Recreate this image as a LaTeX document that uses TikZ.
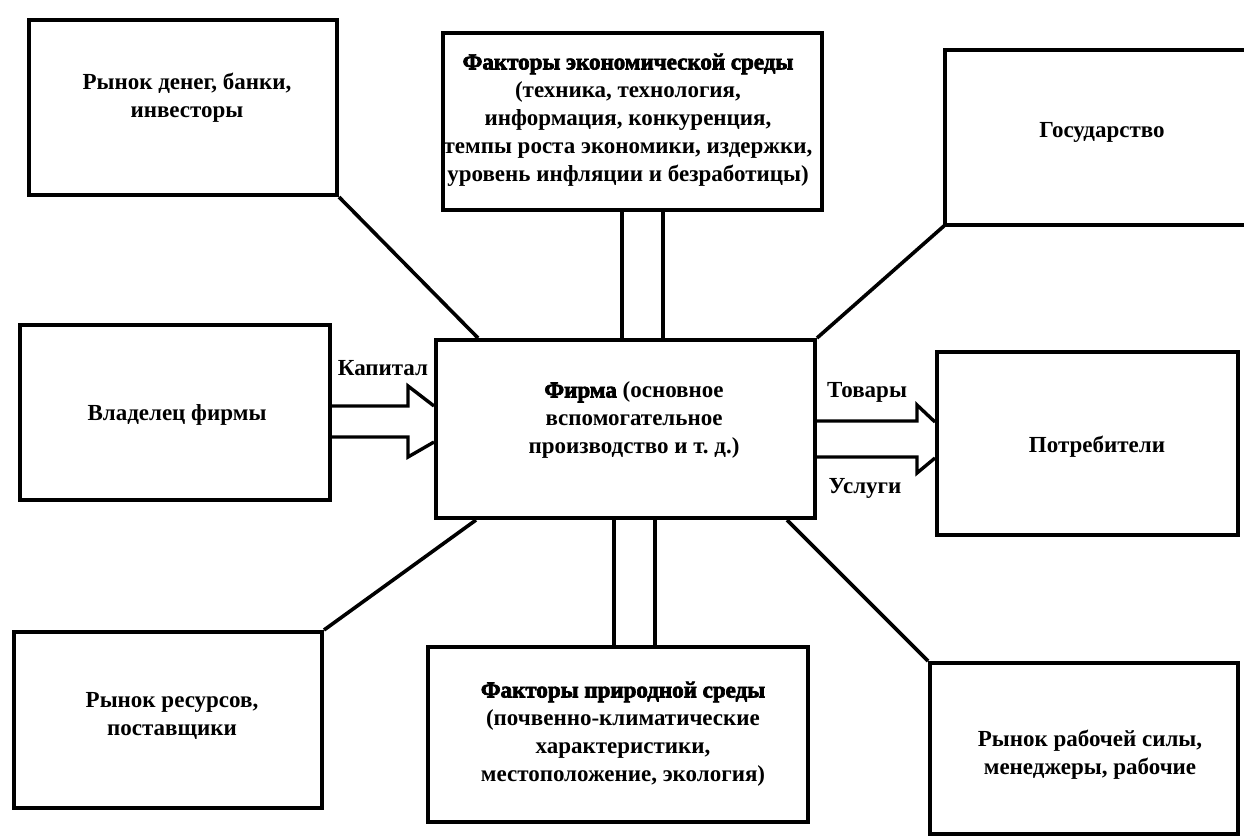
\documentclass[tikz,border=0pt]{standalone}
\usepackage{fontspec}
\setmainfont{Liberation Serif}
\newfontfamily\heavyfont{Liberation Serif}[FakeBold=3]
\usetikzlibrary{calc}
\begin{document}
\begin{tikzpicture}[x=1pt,y=-1pt,
  box/.style={draw,line width=4pt,inner sep=0pt},
  link/.style={line width=3.6pt},
  flow/.style={line width=3.4pt,line join=miter},
  txt/.style={align=center,font=\fontsize{23}{28}\selectfont\bfseries,inner sep=0pt}]
\useasboundingbox (0,0) rectangle (1244,838);
\fill[white] (0,0) rectangle (1244,838);

% boxes
\node[box,minimum width=308pt,minimum height=175pt] (A) at (183,107.5) {};
\node[box,minimum width=310pt,minimum height=175pt] (B) at (175,412.5) {};
\node[box,minimum width=379pt,minimum height=177pt] (C) at (632.5,121.5) {};
\node[box,minimum width=379pt,minimum height=178pt] (firm) at (625.5,429) {};
\node[inner sep=0pt,minimum width=299pt,minimum height=175pt] (D) at (1094.5,137.5) {};
\draw[line width=4pt] (D.north east) -- (D.north west) -- (D.south west) -- (D.south east);
\node[box,minimum width=301pt,minimum height=183pt] (E) at (1087.5,443.5) {};
\node[box,minimum width=308pt,minimum height=176pt] (F) at (168,720) {};
\node[box,minimum width=380pt,minimum height=175pt] (G) at (618,734.5) {};
\node[box,minimum width=308pt,minimum height=171pt] (H) at (1084,748.5) {};

% texts
\node[txt] (At) at (187,97.5) {Рынок денег, банки,\\инвесторы};
\node[txt] (Bt) at (177,415) {Владелец фирмы};
\node[txt] (Ct) at (628,120) {{\heavyfont\bfseries Факторы экономической среды}\\(техника, технология,\\информация, конкуренция,\\темпы роста экономики, издержки,\\уровень инфляции и безработицы)};
\node[txt] (firmt) at (634,420) {{\heavyfont\bfseries Фирма} (основное\\вспомогательное\\производство и т.\ д.)};
\node[txt] (Dt) at (1102,132) {Государство};
\node[txt] (Et) at (1097,447) {Потребители};
\node[txt] (Ft) at (172,716) {Рынок ресурсов,\\поставщики};
\node[txt] (Gt) at (623,734) {{\heavyfont\bfseries Факторы природной среды}\\(почвенно-климатические\\характеристики,\\местоположение, экология)};
\node[txt] (Ht) at (1090,755) {Рынок рабочей силы,\\менеджеры, рабочие};

% diagonal links
\draw[link] (A.south east) -- ($(firm.north west)+(44,0)$);
\draw[link] (firm.north east) -- (D.south west);
\draw[link] (F.north east) -- ($(firm.south west)+(42,0)$);
\draw[link] ($(firm.south east)+(-30,0)$) -- (H.north west);

% double lines
\coordinate (c1) at (622,0);
\coordinate (c2) at (663,0);
\coordinate (g1) at (614,0);
\coordinate (g2) at (655,0);
\draw[link] (C.south -| c1) -- (firm.north -| c1);
\draw[link] (C.south -| c2) -- (firm.north -| c2);
\draw[link] (firm.south -| g1) -- (G.north -| g1);
\draw[link] (firm.south -| g2) -- (G.north -| g2);

% capital arrow
\coordinate (ka) at (408,406);
\coordinate (kb) at (408,386);
\coordinate (kc) at (408,437);
\coordinate (kd) at (408,457);
\draw[flow] (B.east |- ka) -- (ka) -- (kb) -- (firm.west |- ka);
\draw[flow] (B.east |- kc) -- (kc) -- (kd) -- (firm.west |- 0,442);

% goods / services arrow
\coordinate (ta) at (917,421);
\coordinate (tb) at (917,405);
\coordinate (tc) at (917,457);
\coordinate (td) at (917,473);
\draw[flow] (firm.east |- ta) -- (ta) -- (tb) -- (E.west |- 0,422);
\draw[flow] (firm.east |- tc) -- (tc) -- (td) -- (E.west |- 0,458);

% arrow labels
\node[txt] (kap) at (383,368) {Капитал};
\node[txt] (tov) at (867,392) {Товары};
\node[txt] (usl) at (865,488) {Услуги};
\end{tikzpicture}
\end{document}
